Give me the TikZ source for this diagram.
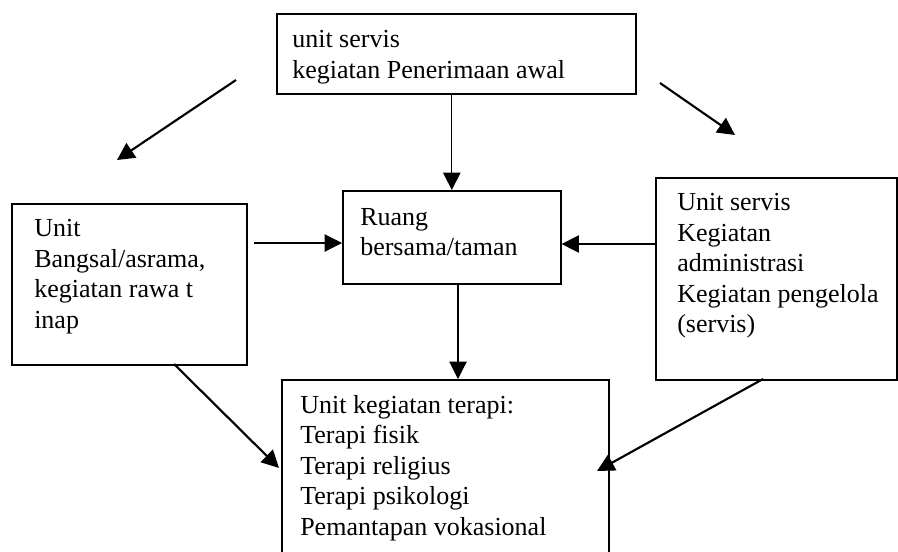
\documentclass[tikz,border=0pt]{standalone}
\usepackage{fontspec}
\setmainfont{Liberation Serif}
\usetikzlibrary{arrows.meta}

\begin{document}
\begin{tikzpicture} [x=0.75pt, y=-0.75pt,
            unitbox/.style = {draw, line width=1.2pt, inner sep=0pt, anchor=north west},
            unittext/.style = {align=left, inner sep=0pt, anchor=north west,
                font=\fontsize{19.5pt}{22.9pt}\selectfont},
            arrow/.style = {-{Triangle[length=13pt, width=13pt]}, line width=0.8pt},
            slant/.style = {arrow, line width=1.6pt}]

        \useasboundingbox (0,0) rectangle (898,551);

        % Unit servis, penerimaan awal
        \node (top) [unitbox, minimum width=269.25pt, minimum height=60pt] at (276,13) {};
        \node (toptext) [unittext] at ([shift={(16,17)}]top.north west)
            {unit servis\\kegiatan Penerimaan awal};

        % Ruang bersama
        \node (mid) [unitbox, minimum width=163.5pt, minimum height=69.75pt] at (342,190) {};
        \node (midtext) [unittext] at ([shift={(18,18)}]mid.north west)
            {Ruang\\bersama/taman};

        % Unit bangsal
        \node (left) [unitbox, minimum width=176.25pt, minimum height=120.75pt] at (11,203) {};
        \node (lefttext) [unittext] at ([shift={(23,16)}]left.north west)
            {Unit\\Bangsal/asrama,\\kegiatan rawa t\\inap};

        % Unit servis, administrasi
        \node (right) [unitbox, minimum width=180.75pt, minimum height=151.5pt] at (655,177) {};
        \node (righttext) [unittext] at ([shift={(22,16)}]right.north west)
            {Unit servis\\Kegiatan\\administrasi\\Kegiatan pengelola\\(servis)};

        % Unit terapi
        \node (bottom) [unitbox, minimum width=245.25pt, minimum height=139.5pt] at (281,379) {};
        \node (bottomtext) [unittext] at ([shift={(19,16)}]bottom.north west)
            {Unit kegiatan terapi:\\Terapi fisik\\Terapi religius\\Terapi psikologi\\Pemantapan vokasional};

        % Free ends
        \coordinate (tl) at (236,80);
        \coordinate (tltip) at (117,160);
        \coordinate (tr) at (660,83);
        \coordinate (trtip) at (735,135);
        \coordinate (lin) at (254,243);
        \coordinate (rin) at (656,244);
        \coordinate (mb) at (458,283);
        \coordinate (lb) at (174,364);
        \coordinate (lbtip) at (279,468);
        \coordinate (rb) at (763,379);
        \coordinate (rbtip) at (597,471);

        % Arrows
        \path [arrow]
            (mid.north |- top.south) edge (mid.north)
            (lin) edge (mid.west |- lin)
            (rin) edge (mid.east |- rin)
            (mb) edge (mb |- bottom.north);

        \path [slant]
            (tl) edge (tltip)
            (tr) edge (trtip)
            (lb) edge (lbtip)
            (rb) edge (rbtip);
        \end{tikzpicture}
\end{document}
